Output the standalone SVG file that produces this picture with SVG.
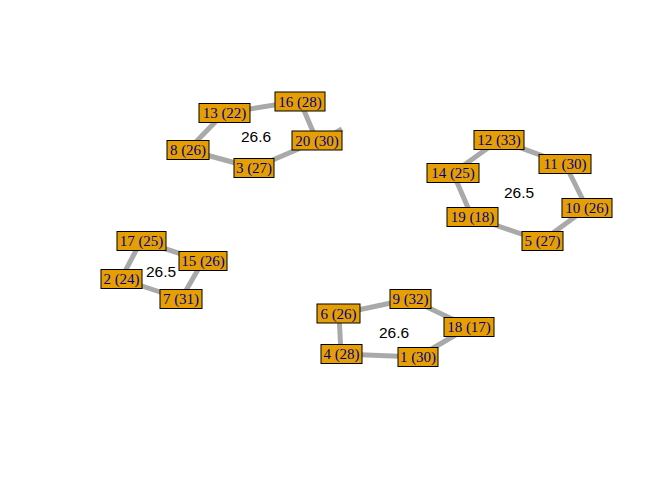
<svg xmlns="http://www.w3.org/2000/svg" width="672" height="480" viewBox="0 0 672 480">
<style>
.e{stroke:#A9A9A9;stroke-width:5;fill:none}
.n rect{fill:#E69F00;stroke:#000;stroke-width:1}
.n text{font-family:"Liberation Serif",serif;font-size:15px;fill:#00008B;text-anchor:middle;dominant-baseline:central}
.c{font-family:"Liberation Sans",sans-serif;font-size:15.5px;fill:#000;text-anchor:middle;dominant-baseline:central}
</style>
<rect width="672" height="480" fill="#fff"/>
<g id="edges">
<line class="e" x1="224" y1="113" x2="300" y2="101"/>
<line class="e" x1="300" y1="101" x2="317" y2="141"/>
<line class="e" x1="317" y1="141" x2="254" y2="168"/>
<line class="e" x1="254" y1="168" x2="188" y2="150"/>
<line class="e" x1="188" y1="150" x2="224" y2="113"/>
<line class="e" x1="335" y1="133" x2="342" y2="129"/>
<line class="e" x1="499" y1="140" x2="565" y2="164"/>
<line class="e" x1="565" y1="164" x2="587" y2="208"/>
<line class="e" x1="587" y1="208" x2="542" y2="241"/>
<line class="e" x1="542" y1="241" x2="472" y2="217"/>
<line class="e" x1="472" y1="217" x2="453" y2="173"/>
<line class="e" x1="453" y1="173" x2="499" y2="140"/>
<line class="e" x1="141" y1="241" x2="203" y2="261"/>
<line class="e" x1="203" y1="261" x2="181" y2="299"/>
<line class="e" x1="181" y1="299" x2="121" y2="279"/>
<line class="e" x1="121" y1="279" x2="141" y2="241"/>
<line class="e" x1="339" y1="314" x2="410" y2="299"/>
<line class="e" x1="410" y1="299" x2="469" y2="327"/>
<line class="e" x1="469" y1="327" x2="418" y2="357"/>
<line class="e" x1="418" y1="357" x2="341" y2="354"/>
<line class="e" x1="341" y1="354" x2="339" y2="314"/>
</g>
<g id="labels">
<text class="c" x="256" y="136">26.6</text>
<text class="c" x="519" y="192">26.5</text>
<text class="c" x="161" y="271">26.5</text>
<text class="c" x="394" y="332">26.6</text>
</g>
<g id="n13" class="n"><rect x="199" y="103.5" width="51" height="19"/><text x="224.5" y="113">13 (22)</text></g>
<g id="n16" class="n"><rect x="275" y="92" width="50" height="19"/><text x="300" y="101.5">16 (28)</text></g>
<g id="n20" class="n"><rect x="292" y="131" width="50" height="19"/><text x="317" y="140.5">20 (30)</text></g>
<g id="n8" class="n"><rect x="167" y="140.5" width="42" height="19"/><text x="188" y="150">8 (26)</text></g>
<g id="n3" class="n"><rect x="234" y="158.5" width="40" height="19"/><text x="254" y="168">3 (27)</text></g>
<g id="n12" class="n"><rect x="474" y="130.5" width="50" height="19"/><text x="499" y="140">12 (33)</text></g>
<g id="n11" class="n"><rect x="539" y="154.5" width="52" height="19"/><text x="565" y="164">11 (30)</text></g>
<g id="n14" class="n"><rect x="427" y="163.5" width="52" height="19"/><text x="453" y="173">14 (25)</text></g>
<g id="n10" class="n"><rect x="562" y="198.5" width="50" height="19"/><text x="587" y="208">10 (26)</text></g>
<g id="n19" class="n"><rect x="447" y="207.5" width="51" height="19"/><text x="472.5" y="217">19 (18)</text></g>
<g id="n5" class="n"><rect x="522" y="231.5" width="41" height="19"/><text x="542.5" y="241">5 (27)</text></g>
<g id="n17" class="n"><rect x="117" y="231.5" width="49" height="19"/><text x="141.5" y="241">17 (25)</text></g>
<g id="n15" class="n"><rect x="179" y="251.5" width="48" height="19"/><text x="203" y="261">15 (26)</text></g>
<g id="n2" class="n"><rect x="101" y="269.5" width="41" height="19"/><text x="121.5" y="279">2 (24)</text></g>
<g id="n7" class="n"><rect x="160" y="289.5" width="42" height="19"/><text x="181" y="299">7 (31)</text></g>
<g id="n9" class="n"><rect x="390" y="289.5" width="41" height="19"/><text x="410.5" y="299">9 (32)</text></g>
<g id="n6" class="n"><rect x="317" y="304" width="43" height="19"/><text x="338.5" y="313.5">6 (26)</text></g>
<g id="n18" class="n"><rect x="444" y="317.5" width="50" height="19"/><text x="469" y="327">18 (17)</text></g>
<g id="n4" class="n"><rect x="321" y="344.5" width="41" height="19"/><text x="341.5" y="354">4 (28)</text></g>
<g id="n1" class="n"><rect x="398" y="347.5" width="40" height="19"/><text x="418" y="357">1 (30)</text></g>
</svg>
